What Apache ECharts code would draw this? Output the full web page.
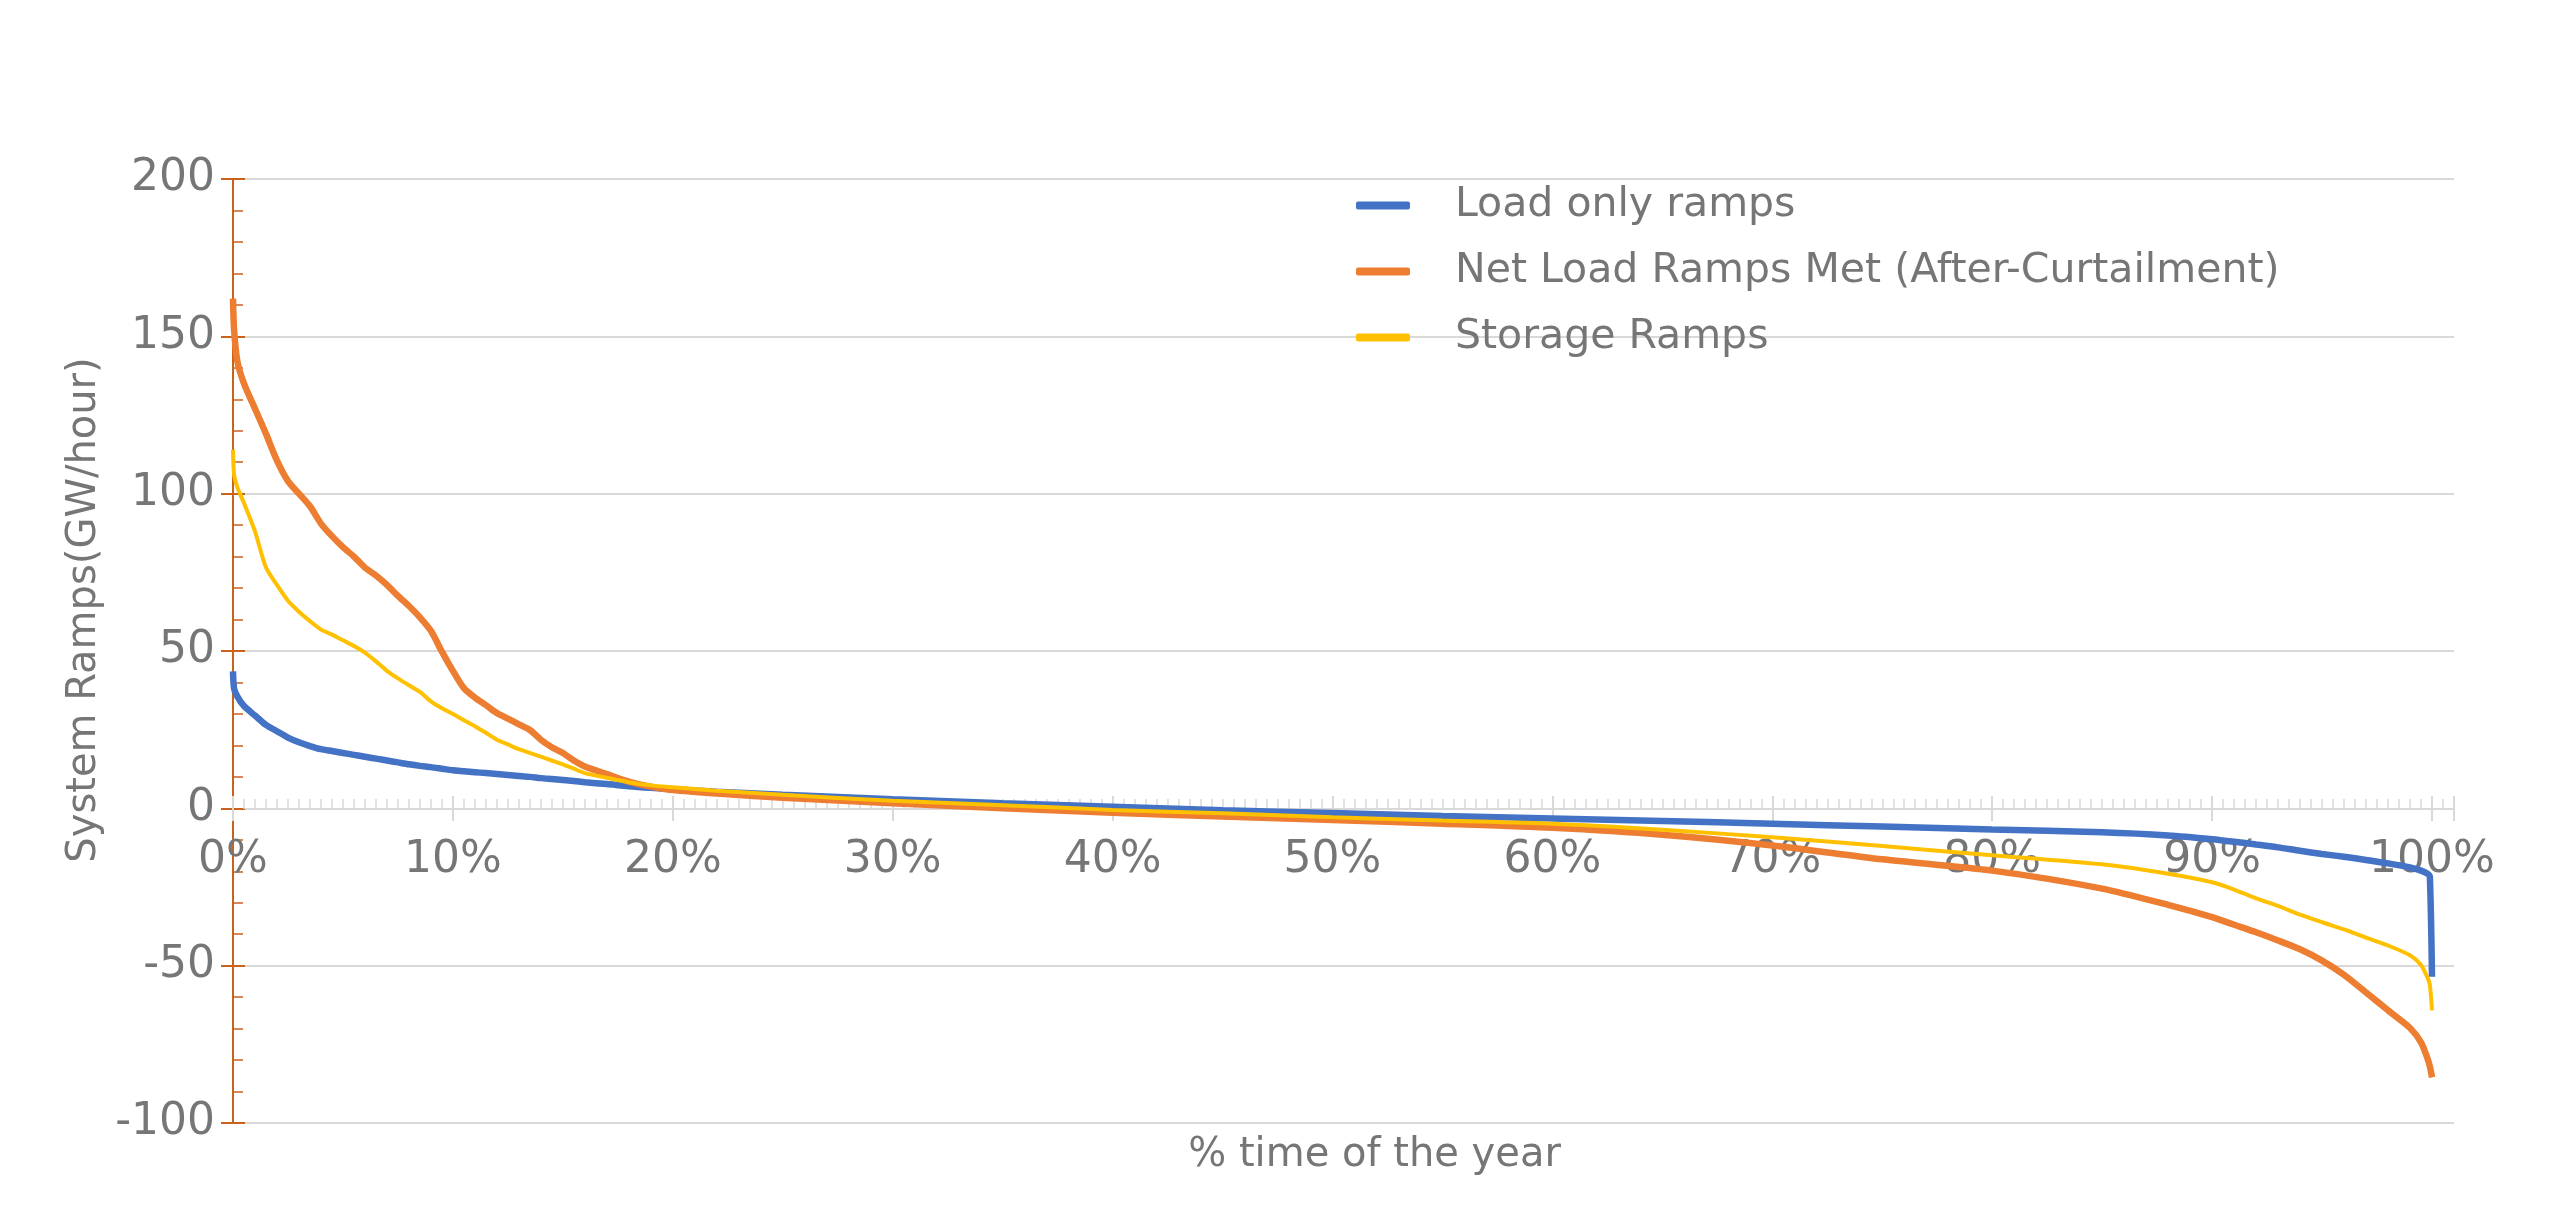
<!DOCTYPE html>
<html>
<head>
<meta charset="utf-8">
<title>System Ramps</title>
<script src="https://cdn.jsdelivr.net/npm/echarts@6/dist/echarts.min.js"></script>
<style>
  html, body { margin: 0; padding: 0; background: #fff; }
  #chart { width: 2552px; height: 1208px; }
</style>
</head>
<body>
<div id="chart"></div>
<script>
// % of the year (duration curve, sorted)
var pctTime = [0, 0.05, 0.2, 0.5, 1, 1.5, 2, 2.5, 3, 3.5,
  4, 4.5, 5, 5.5, 6, 6.5, 7, 7.5, 8, 8.5,
  9, 9.5, 10, 10.5, 11, 11.5, 12, 12.5, 13, 13.5,
  14, 14.5, 15, 15.5, 16, 17, 18, 19, 20, 22,
  25, 30, 35, 40, 45, 50, 55, 60, 65, 70,
  75, 80, 85, 88, 90, 91, 92, 93, 94, 95,
  96, 97, 98, 99, 99.5, 99.8, 99.9, 100];

// GW/hour
var loadOnly = [43.5, 38, 35.5, 32.5, 29.5, 26.5, 24.5, 22.5, 21, 19.8,
  18.8, 18.2, 17.6, 17, 16.4, 15.8, 15.2, 14.6, 14, 13.5,
  13.1, 12.6, 12.1, 11.8, 11.5, 11.2, 10.9, 10.6, 10.3, 10,
  9.6, 9.3, 9, 8.7, 8.3, 7.7, 7, 6.5, 6.1, 5.3,
  4.3, 2.9, 1.6, 0.5, -0.6, -1.5, -2.4, -3.2, -4, -4.9,
  -5.8, -6.7, -7.6, -8.6, -9.8, -10.6, -11.5, -12.4, -13.5, -14.5,
  -15.4, -16.4, -17.5, -18.8, -19.8, -20.8, -21.5, -53.5];

var netLoad = [162, 152, 142, 135, 127, 119, 110.5, 104, 100, 96,
  90.5, 86.5, 83, 80, 76.5, 74, 71, 67.5, 64.3, 60.7,
  56.4, 49.8, 43.7, 38.2, 35.2, 32.8, 30.3, 28.5, 26.7, 24.9,
  21.8, 19.4, 17.6, 15.2, 13.3, 10.9, 8.5, 6.9, 5.8, 4.7,
  3.4, 1.6, 0, -1.4, -2.6, -3.7, -4.9, -6.2, -8.4, -11.8,
  -16.2, -19.8, -25.5, -30.7, -34.6, -37, -39.4, -42, -44.8, -48.4,
  -52.9, -58.5, -64.2, -69.8, -74.4, -79.6, -82, -85.5];

var storage = [114, 106, 102, 97, 88, 76.5, 71, 66, 62.5, 59.5,
  56.8, 55.2, 53.4, 51.6, 49.5, 46.7, 43.7, 41.3, 39.1, 37,
  34, 31.8, 30, 28, 26.1, 24, 21.8, 20.3, 18.8, 17.6,
  16.4, 15.2, 14, 12.6, 11.2, 9.7, 8.3, 7.3, 6.7, 5.6,
  4.3, 2.4, 1, -0.5, -1.6, -2.8, -3.9, -4.9, -6.8, -9.2,
  -12, -14.9, -17.8, -20.8, -23.5, -25.8, -28.6, -31, -33.8, -36.2,
  -38.5, -41.1, -43.6, -46.7, -49.8, -53.9, -56, -64.2];

var seriesNames = ['Load only ramps', 'Net Load Ramps Met (After-Curtailment)', 'Storage Ramps'];

function pairs(ys) {
    var out = [];
    for (var i = 0; i < pctTime.length; i++) {
        out.push([pctTime[i], ys[i]]);
    }
    return out;
}

var textGray = '#767676';
var gridGray = '#d9d9d9';
var axisOrange = '#c9631c';
var font = 'DejaVu Sans';

var myChart = echarts.init(document.getElementById('chart'));

// x axis sits on the zero line: 1123 (grid bottom) - 809 (zero) = 314
var zeroOffset = -314;

var option = {
    animation: false,
    backgroundColor: '#fff',
    grid: {
        left: 233,
        right: 98,
        top: 179,
        bottom: 85,
        containLabel: false,
        outerBoundsMode: 'none'
    },
    legend: {
        orient: 'vertical',
        left: 1351,
        top: 180,
        itemWidth: 54,
        itemHeight: 8,
        itemGap: 25,
        icon: 'roundRect',
        data: seriesNames,
        textStyle: {
            color: textGray,
            fontFamily: font,
            fontSize: 41,
            lineHeight: 41,
            padding: [0, 0, 0, 40]
        }
    },
    xAxis: [{
        type: 'value',
        min: 0,
        max: 101,
        interval: 10,
        offset: zeroOffset,
        name: '% time of the year',
        nameLocation: 'middle',
        nameGap: 327,
        nameTextStyle: {
            color: textGray,
            fontFamily: font,
            fontSize: 40,
            padding: [0, 0, 0, 62]
        },
        axisLine: { onZero: false, lineStyle: { color: gridGray, width: 2 } },
        axisTick: { show: true, inside: true, length: 13, lineStyle: { color: gridGray, width: 2 } },
        minorTick: { show: true, splitNumber: 20, length: 10, lineStyle: { color: gridGray, width: 1.5 } },
        splitLine: { show: false },
        axisLabel: {
            color: textGray,
            fontFamily: font,
            fontSize: 44,
            margin: 30,
            formatter: function (v) {
                return v % 10 === 0 ? v + '%' : '';
            }
        }
    }, {
        // lower half of the major ticks
        type: 'value',
        min: 0,
        max: 101,
        interval: 10,
        position: 'bottom',
        offset: zeroOffset,
        axisLine: { show: false, onZero: false },
        axisTick: { show: true, inside: false, length: 12, lineStyle: { color: gridGray, width: 2 } },
        axisLabel: { show: false },
        splitLine: { show: false }
    }],
    yAxis: [{
        type: 'value',
        min: -100,
        max: 200,
        interval: 50,
        name: 'System Ramps(GW/hour)',
        nameLocation: 'middle',
        nameGap: 114,
        nameTextStyle: {
            color: textGray,
            fontFamily: font,
            fontSize: 40,
            padding: [0, 0, 0, 82]
        },
        axisLine: { show: true, onZero: false, lineStyle: { color: axisOrange, width: 2 } },
        axisTick: { show: true, inside: false, length: 12, lineStyle: { color: axisOrange, width: 2 } },
        splitLine: { show: true, lineStyle: { color: gridGray, width: 2 } },
        axisLabel: {
            color: textGray,
            fontFamily: font,
            fontSize: 44,
            margin: 18
        }
    }, {
        // inner ticks + minor ticks of the y axis
        type: 'value',
        min: -100,
        max: 200,
        interval: 50,
        position: 'left',
        axisLine: { show: true, onZero: false, lineStyle: { color: axisOrange, width: 2 } },
        axisTick: { show: true, inside: true, length: 12, lineStyle: { color: axisOrange, width: 2 } },
        minorTick: { show: true, splitNumber: 5, length: 10, lineStyle: { color: axisOrange, width: 1.5 } },
        splitLine: { show: false },
        axisLabel: { show: false }
    }],
    series: [{
        name: seriesNames[0],
        type: 'line',
        showSymbol: false,
        smooth: 0.25,
        data: pairs(loadOnly),
        itemStyle: { color: '#4472c4' },
        lineStyle: { color: '#4472c4', width: 6.5 }
    }, {
        name: seriesNames[1],
        type: 'line',
        showSymbol: false,
        smooth: 0.25,
        data: pairs(netLoad),
        itemStyle: { color: '#ed7d31' },
        lineStyle: { color: '#ed7d31', width: 6.5 }
    }, {
        name: seriesNames[2],
        type: 'line',
        showSymbol: false,
        smooth: 0.25,
        data: pairs(storage),
        itemStyle: { color: '#ffc000' },
        lineStyle: { color: '#ffc000', width: 4 }
    }]
};

myChart.setOption(option);
</script>
</body>
</html>
